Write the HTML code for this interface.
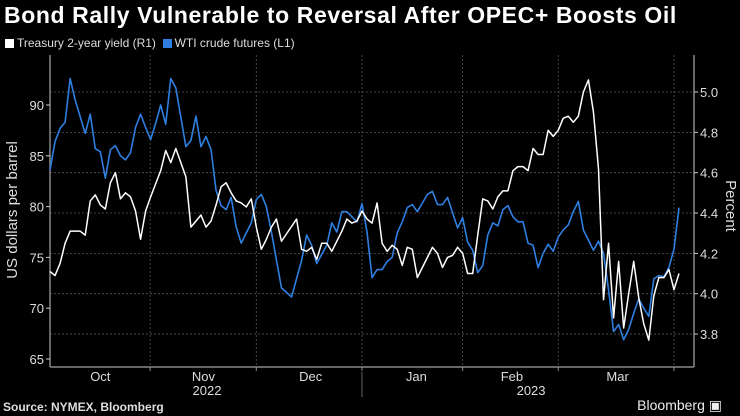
<!DOCTYPE html>
<html><head><meta charset="utf-8">
<style>
body{margin:0;background:#000;width:740px;height:416px;overflow:hidden;font-family:"Liberation Sans",sans-serif;color:#fff}
#title{position:absolute;left:4px;top:2px;font-size:23px;font-weight:bold;letter-spacing:0.6px}
#legend{position:absolute;left:5px;top:36px;font-size:12px;color:#ddd}
.sw{display:inline-block;width:9px;height:9px;margin-right:3px;vertical-align:-1px}
#src{position:absolute;left:3px;top:400px;font-size:12px;font-weight:bold;color:#ddd}
#bb{position:absolute;right:18px;top:397px;font-size:14px;color:#eee}
</style></head><body>
<div id="title">Bond Rally Vulnerable to Reversal After OPEC+ Boosts Oil</div>
<div id="legend"><span><span class="sw" style="background:#fff"></span>Treasury 2-year yield (R1)</span>&nbsp;&nbsp;<span><span class="sw" style="background:#2f7fe0"></span>WTI crude futures (L1)</span></div>
<svg id="chart" width="740" height="416" style="position:absolute;left:0;top:0"></svg>
<div id="src">Source: NYMEX, Bloomberg</div>
<div id="bb">Bloomberg ▣</div>
<script>
const wtiIdx=[0,1,2,3,4,5,7,8,9,10,11,12,13,14,15,16,17,18,19,20,21,22,23,24,25,27,28,29,30,31,32,33,34,35,36,37,38,39,40,41,42,43,44,46,48,50,51,52,53,55,56,57,58,59,61,62,63,64,65,66,67,68,69,70,71,72,73,75,76,77,78,79,81,82,83,84,85,86,87,88,89,90,91,92,93,94,95,96,97,98,99,100,101,102,103,104,105,106,107,108,109,110,111,112,113,114,115,116,117,118,119,120,121,122,123,124,125];
const wtiVal=[83.6,86.4,87.7,88.3,92.6,90.5,87.2,89.1,85.7,85.4,82.8,85.6,86.0,85.0,84.6,85.3,87.8,89.1,87.8,86.6,88.2,90.0,88.1,92.6,91.7,85.9,86.5,88.9,85.9,86.9,85.6,81.6,80.1,79.7,80.9,78.0,76.4,77.4,78.4,80.7,81.2,80.0,77.5,72.0,71.1,74.7,77.2,76.2,74.4,76.2,78.4,77.5,79.5,79.5,78.5,80.3,77.5,73.0,73.8,73.8,74.6,75.0,77.4,78.5,79.9,80.2,79.5,81.2,81.5,80.2,80.2,80.9,77.9,78.9,76.5,75.7,73.5,74.2,77.2,78.4,78.1,79.7,80.1,79.0,78.5,78.5,76.4,76.2,74.0,75.4,76.3,75.6,77.0,77.7,78.2,79.5,80.5,77.7,76.7,75.7,76.6,75.4,71.8,67.7,68.4,66.9,67.9,69.5,70.9,70.0,69.2,72.9,73.2,73.1,74.0,75.8,79.9];
const ustIdx=[0,1,2,3,4,6,7,8,9,10,11,12,13,14,15,16,17,18,19,20,22,23,24,25,27,28,29,30,31,32,33,34,35,36,37,38,39,40,41,42,43,44,45,46,49,50,51,52,53,54,55,56,58,59,60,61,62,63,64,65,66,67,68,69,70,71,72,73,74,75,76,77,78,79,80,81,82,83,84,85,86,87,88,89,90,91,92,93,94,95,96,97,98,99,100,101,102,103,104,105,106,107,108,109,110,111,112,113,114,115,116,117,118,119,120,121,122,123,124,125];
const ustVal=[4.11,4.09,4.15,4.25,4.31,4.31,4.29,4.46,4.49,4.44,4.42,4.55,4.60,4.47,4.50,4.48,4.41,4.27,4.41,4.48,4.61,4.71,4.65,4.72,4.58,4.33,4.36,4.39,4.33,4.36,4.44,4.53,4.55,4.50,4.46,4.45,4.43,4.47,4.33,4.22,4.27,4.33,4.37,4.26,4.37,4.22,4.21,4.23,4.17,4.25,4.25,4.21,4.31,4.37,4.35,4.36,4.41,4.37,4.35,4.45,4.25,4.21,4.24,4.22,4.14,4.23,4.22,4.08,4.13,4.18,4.23,4.20,4.13,4.18,4.19,4.23,4.20,4.10,4.10,4.29,4.47,4.46,4.42,4.48,4.51,4.51,4.61,4.63,4.63,4.61,4.72,4.69,4.69,4.81,4.78,4.81,4.87,4.88,4.85,4.88,5.00,5.06,4.90,4.62,3.97,4.25,3.88,4.16,3.83,4.00,4.16,3.98,3.85,3.77,3.99,4.08,4.08,4.12,4.02,4.10];
const leftTicks=[65,70,75,80,85,90];
const rightTicks=[3.8,4.0,4.2,4.4,4.6,4.8,5.0];
const monthTicks=[19.9,41,62,82,101,124];
const monthLabels=["Oct","Nov","Dec","Jan","Feb","Mar"];
const monthLabelPos=[10,30.5,51.8,72.8,91.8,112.8];
const yearLabels=["2022","2023"];
const yearLabelPos=[31.2,95.6];
const yearDivider=62;

const X0=50,X1=694,Y0=367,YT=55;
const x=d=>50+d*(629/125);
const yL=v=>105+(90-v)*10.16;
const yR=v=>92+(5-v)*201.7;
const svg=document.getElementById('chart');
const NS='http://www.w3.org/2000/svg';
function mk(t,a){const e=document.createElementNS(NS,t);for(const k in a)e.setAttribute(k,a[k]);svg.appendChild(e);return e;}
rightTicks.forEach(v=>{const l=mk('line',{x1:X0,x2:X1,y1:yR(v),y2:yR(v),stroke:'#555','stroke-dasharray':'2,2','stroke-width':0.8});
});
monthTicks.forEach(d=>{const l=mk('line',{x1:x(d),x2:x(d),y1:YT,y2:Y0,stroke:'#555','stroke-dasharray':'2,2','stroke-width':0.8});

const t=mk('line',{x1:x(d),x2:x(d),y1:Y0,y2:Y0+4,stroke:'#888'});});
let a=mk('line',{x1:X0,x2:X1,y1:Y0,y2:Y0,stroke:'#888','stroke-width':1.5});
a=mk('line',{x1:X0,x2:X0,y1:YT,y2:Y0,stroke:'#888','stroke-width':1.5});
a=mk('line',{x1:X1,x2:X1,y1:YT,y2:Y0,stroke:'#888','stroke-width':1.5});
leftTicks.forEach(v=>{const t=mk('line',{x1:X0-4,x2:X0,y1:yL(v),y2:yL(v),stroke:'#ccc'});
const tx=mk('text',{x:X0-6,y:yL(v)+5,'text-anchor':'end',fill:'#ddd','font-size':13,'font-family':'Liberation Sans, sans-serif'});tx.textContent=v;});
rightTicks.forEach(v=>{const t=mk('line',{x1:X1,x2:X1+4,y1:yR(v),y2:yR(v),stroke:'#ccc'});
const tx=mk('text',{x:X1+6,y:yR(v)+5,fill:'#ddd','font-size':13,'font-family':'Liberation Sans, sans-serif'});tx.textContent=v.toFixed(1);});
monthLabels.forEach((m,i)=>{const tx=mk('text',{x:x(monthLabelPos[i]),y:381,'text-anchor':'middle',fill:'#ddd','font-size':13,'font-family':'Liberation Sans, sans-serif'});tx.textContent=m;});
yearLabels.forEach((m,i)=>{const tx=mk('text',{x:x(yearLabelPos[i]),y:395,'text-anchor':'middle',fill:'#ddd','font-size':13,'font-family':'Liberation Sans, sans-serif'});tx.textContent=m;});
a=mk('line',{x1:x(yearDivider),x2:x(yearDivider),y1:372,y2:397,stroke:'#666'});
let tt=mk('text',{x:0,y:0,transform:'translate(17,210) rotate(-90)','text-anchor':'middle',fill:'#ddd','font-size':15,'font-family':'Liberation Sans, sans-serif'});tt.textContent='US dollars per barrel';
tt=mk('text',{x:0,y:0,transform:'translate(726,206) rotate(90)','text-anchor':'middle',fill:'#ddd','font-size':15,'font-family':'Liberation Sans, sans-serif'});tt.textContent='Percent';
let p=mk('polyline',{points:wtiIdx.map((d,i)=>x(d)+','+yL(wtiVal[i])).join(' '),fill:'none',stroke:'#2f7fe0','stroke-width':1.6,'stroke-linejoin':'round'});

p=mk('polyline',{points:ustIdx.map((d,i)=>x(d)+','+yR(ustVal[i])).join(' '),fill:'none',stroke:'#fff','stroke-width':1.5,'stroke-linejoin':'round'});

</script>
</body></html>
